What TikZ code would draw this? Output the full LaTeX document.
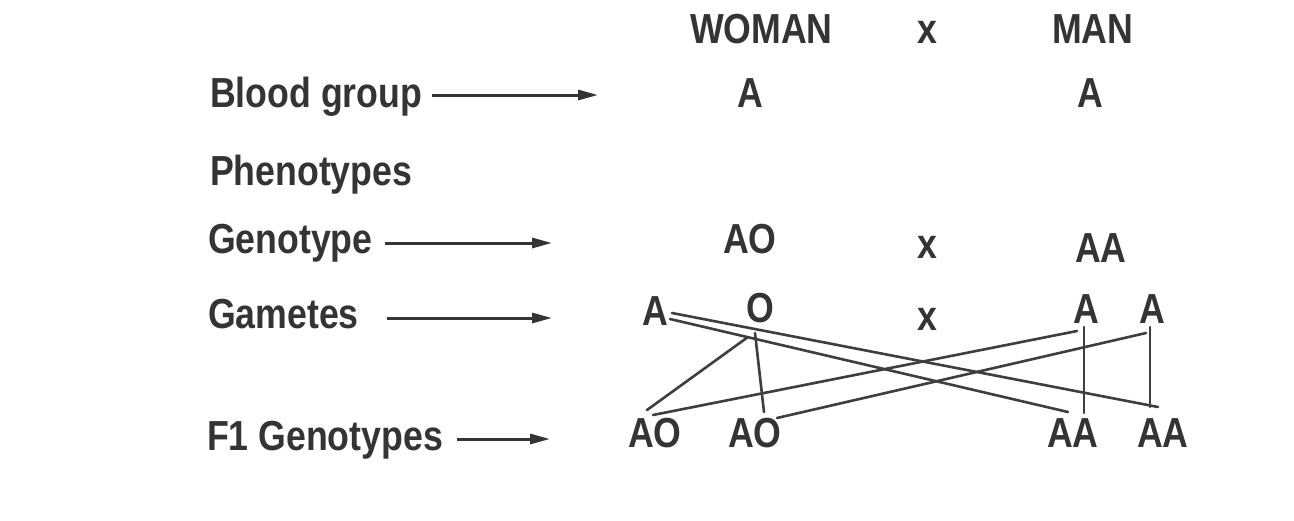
\documentclass[tikz,border=0pt]{standalone}
\usepackage{fontspec}
\usetikzlibrary{arrows.meta}
\newfontfamily\labfont[FakeStretch=0.85]{Liberation Sans}
\definecolor{ink}{RGB}{52,52,52}
\definecolor{lineink}{RGB}{62,62,62}
\tikzset{
  txt/.style={anchor=base west, inner sep=0pt, outer sep=0pt, text=ink,
    font=\labfont\bfseries\fontsize{42pt}{50pt}\selectfont},
  pointer/.style={draw=ink, line width=3pt, -{Triangle[length=20pt,width=10pt]}},
  link/.style={draw=lineink, line width=2.6pt, line cap=round}
}
\begin{document}
\begin{tikzpicture}[x=1pt,y=-1pt]
\fill[white] (0,0) rectangle (1294,520);
\useasboundingbox (0,0) rectangle (1294,520);
% header
\node[txt] (woman) at (690,43) {WOMAN};
\node[txt] (xtop) at (917,43) {x};
\node[txt] (man) at (1052,43) {MAN};
% row labels
\node[txt] (blood) at (210,107) {Blood group};
\node[txt] (pheno) at (210,185) {Phenotypes};
\node[txt] (geno) at (208,253) {Genotype};
\node[txt] (gam) at (208,328) {Gametes};
\node[txt] (f1) at (207,450) {F1 Genotypes};
% pointer arrow ends
\coordinate (bloodS) at (432,95);  \coordinate (bloodE) at (598,95);
\coordinate (genoS) at (385,243);  \coordinate (genoE) at (552,243);
\coordinate (gamS) at (387,318);   \coordinate (gamE) at (552,318);
\coordinate (f1S) at (457,439);    \coordinate (f1E) at (550,439);
\draw[pointer] (bloodS) -- (bloodE);
\draw[pointer] (genoS) -- (genoE);
\draw[pointer] (gamS) -- (gamE);
\draw[pointer] (f1S) -- (f1E);
% blood group
\node[txt] (bw) at (737,107) {A};
\node[txt] (bm) at (1077,107) {A};
% genotypes
\node[txt] (gw) at (723,253) {AO};
\node[txt] (gx) at (917,258) {x};
\node[txt] (gm) at (1075,262) {AA};
% gametes
\node[txt] (aw) at (642,325) {A};
\node[txt] (ow) at (746,322) {O};
\node[txt] (mx) at (917,330) {x};
\node[txt] (am1) at (1073,323) {A};
\node[txt] (am2) at (1139,323) {A};
% F1
\node[txt] (ao1) at (628,447) {AO};
\node[txt] (ao2) at (728,447) {AO};
\node[txt] (aa1) at (1047,447) {AA};
\node[txt] (aa2) at (1137,447) {AA};
% connection points
\coordinate (awU) at (672,313);  \coordinate (aa2L) at (1158,407);
\coordinate (awL) at (670,319);  \coordinate (aa1L) at (1068,412);
\coordinate (owL) at (748,337);  \coordinate (ao1T) at (647,410);
\coordinate (owV) at (755,333);  \coordinate (ao2T) at (764,412);
\coordinate (am1L) at (1077,331); \coordinate (ao1R) at (653,415);
\coordinate (am1V) at (1084,327); \coordinate (aa1T) at (1084,413);
\coordinate (am2L) at (1146,333); \coordinate (ao2R) at (777,418);
\coordinate (am2V) at (1150,327); \coordinate (aa2T) at (1150,407);
\draw[link] (awU) -- (aa2L);
\draw[link] (awL) -- (aa1L);
\draw[link] (owL) -- (ao1T);
\draw[link] (owV) -- (ao2T);
\draw[link] (am1L) -- (ao1R);
\draw[link] (am1V) -- (aa1T);
\draw[link] (am2L) -- (ao2R);
\draw[link] (am2V) -- (aa2T);
\end{tikzpicture}
\end{document}
